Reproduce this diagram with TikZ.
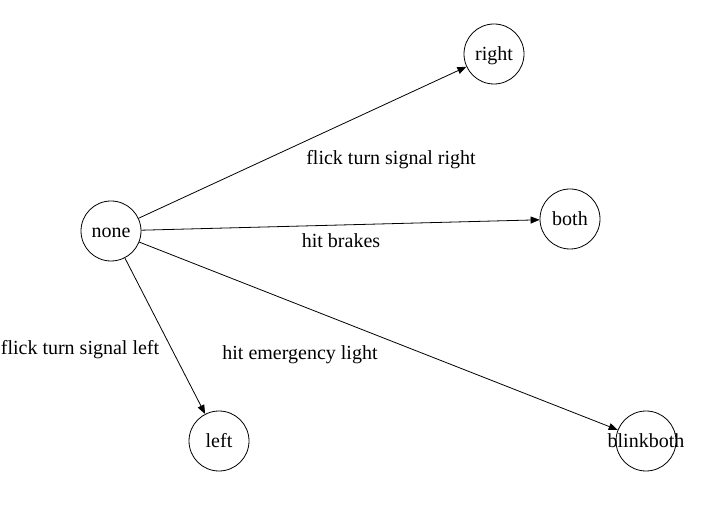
\documentclass[tikz,border=0pt]{standalone}
\usepackage{fontspec}
\setmainfont{Liberation Serif}
\usetikzlibrary{arrows.meta,positioning}

\begin{document}
\begin{tikzpicture}[x=1pt,y=-1pt,
  state/.style={draw,circle,line width=0.8pt,minimum size=60pt,inner sep=0pt,
    text height=16pt,text depth=3pt,font=\fontsize{20}{24}\selectfont},
  lbl/.style={inner sep=0pt,text height=16pt,text depth=3pt,
    font=\fontsize{20}{24}\selectfont}
]
  \useasboundingbox (0,0) rectangle (718,521);
  \node[state] (none) at (111,231) {none};
  \node[state] (right) at (494,54) {right};
  \node[state] (both) at (570,219) {both};
  \node[state] (left) at (219,441) {left};
  \node[state] (blinkboth) at (646,441) {\makebox[0pt]{blinkboth}};
  % Labels
  \node[lbl] (lright) at (391,158) {flick turn signal right};
  \node[lbl] (lboth) at (341,241) {hit brakes};
  \node[lbl] (lleft) at (80,348) {flick turn signal left};
  \node[lbl] (lblink) at (300,353) {hit emergency light};
  % Arrows
  \foreach \b in {right, both, left, blinkboth} {
    \draw[-{Triangle[length=9pt,width=7pt]},line width=0.8pt] (none) -- (\b);
  }
\end{tikzpicture}
\end{document}
